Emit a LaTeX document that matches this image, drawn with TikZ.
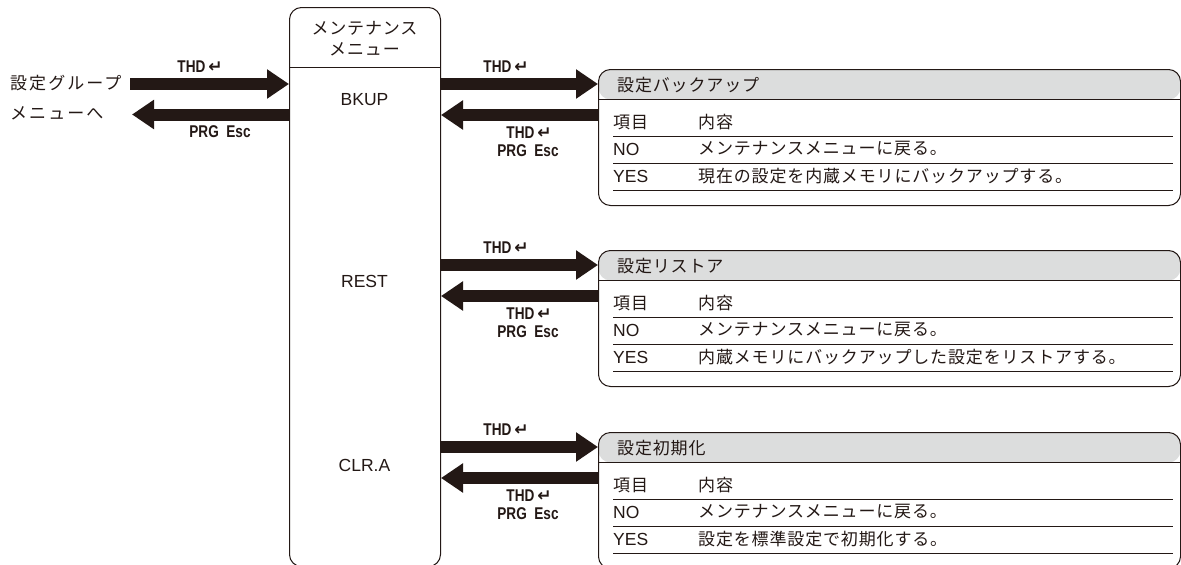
\documentclass[tikz,border=0pt]{standalone}
\usepackage{fontspec}
\usetikzlibrary{arrows.meta}
\setmainfont{Liberation Sans}
\newfontfamily\jp[LetterSpace=5]{Noto Sans CJK JP}
\newfontfamily\jpwide[LetterSpace=12]{Noto Sans CJK JP}
\newfontfamily\lblfont[FakeStretch=0.8]{Liberation Sans}
\newfontfamily\symfont{DejaVu Sans}
\definecolor{ink}{RGB}{35,24,21}
\definecolor{hdr}{RGB}{220,221,221}
\newcommand\retkey{{\symfont\bfseries\fontsize{17}{18}\selectfont ↵}}
\newcommand\thdlbl{THD\,\retkey}
\tikzset{
  fat/.style={draw=ink, line width=12pt, -{Triangle[width=28pt,length=22pt]}},
  keylbl/.style={font=\lblfont\bfseries\fontsize{17}{18}\selectfont, text=ink, inner sep=0pt},
  jptxt/.style={font=\jp\fontsize{17}{19}\selectfont, text=ink, inner sep=0pt},
  jpside/.style={font=\jpwide\fontsize{17}{19}\selectfont, text=ink, inner sep=0pt},
  lattxt/.style={font=\fontsize{17.5}{19}\selectfont, text=ink, inner sep=0pt},
  panelbox/.style={draw=ink, line width=1pt, rounded corners=12pt, minimum width=582pt, minimum height=136pt, inner sep=0pt,
    path picture={\fill[hdr] (path picture bounding box.north west) rectangle ([yshift=-30pt]path picture bounding box.north east);}},
  rule/.style={draw=ink, line width=0.9pt}
}
\newcommand\mypanel[4]{%
  \node[panelbox, anchor=north west] (#2) at (598,#1) {};
  \draw[rule] ({598},{#1+30}) -- ({1180},{#1+30});
  \node[jptxt, anchor=west] (#2h) at ({617},{#1+16}) {#3};
  \node[jptxt, anchor=west] (#2a) at ({613},{#1+53}) {項目};
  \node[jptxt, anchor=west] (#2b) at ({698},{#1+53}) {内容};
  \draw[rule] ({613},{#1+67}) -- ({1173},{#1+67});
  \node[lattxt, anchor=west] (#2c) at ({613},{#1+80}) {NO};
  \node[jptxt, anchor=west] (#2d) at ({698},{#1+80}) {メンテナンスメニューに戻る。};
  \draw[rule] ({613},{#1+94}) -- ({1173},{#1+94});
  \node[lattxt, anchor=west] (#2e) at ({613},{#1+107}) {YES};
  \node[jptxt, anchor=west] (#2f) at ({698},{#1+107}) {#4};
  \draw[rule] ({613},{#1+121}) -- ({1173},{#1+121});
  \coordinate (#2r) at ({598},{#1+15});
  \coordinate (#2l) at ({598},{#1+46});
  \draw[fat] (menu.east |- #2r) -- (#2r);
  \draw[fat] (#2l) -- (menu.east |- #2l);
  \node[keylbl] (#2k1) at ({506},{#1-2}) {\thdlbl};
  \node[keylbl] (#2k2) at ({529},{#1+64}) {\thdlbl};
  \node[keylbl] (#2k3) at ({528},{#1+82}) {PRG\ \ Esc};
}
\begin{document}
\begin{tikzpicture}[x=1pt,y=-1pt]
\useasboundingbox (0,0) rectangle (1181,565);
\fill[white] (0,0) rectangle (1181,565);
% menu column
\node[draw=ink, line width=1pt, rounded corners=12pt, minimum width=151pt, minimum height=559pt, inner sep=0pt, anchor=north west] (menu) at (289,7) {};
\draw[rule] (289,67) -- (440,67);
\node[jptxt] (mt1) at (364.5,28) {メンテナンス};
\node[jptxt] (mt2) at (364.5,49) {メニュー};
\node[lattxt] (bkup) at (364.5,100) {BKUP};
\node[lattxt] (rest) at (364.5,281) {REST};
\node[lattxt] (clra) at (364.5,465) {CLR.A};
% left side
\node[jpside, anchor=west] (grp1) at (10,83) {設定グループ};
\node[jpside, anchor=west] (grp2) at (10,113) {メニューへ};
\coordinate (lin) at (130,84);
\coordinate (lout) at (132,114.5);
\draw[fat] (lin) -- (menu.west |- lin);
\draw[fat] (menu.west |- lout) -- (lout);
\node[keylbl] (lk1) at (200,67) {\thdlbl};
\node[keylbl] (lk2) at (220,132) {PRG\ \ Esc};
% panels
\mypanel{69}{p1}{設定バックアップ}{現在の設定を内蔵メモリにバックアップする。}
\mypanel{250}{p2}{設定リストア}{内蔵メモリにバックアップした設定をリストアする。}
\mypanel{432}{p3}{設定初期化}{設定を標準設定で初期化する。}
\end{tikzpicture}
\end{document}
